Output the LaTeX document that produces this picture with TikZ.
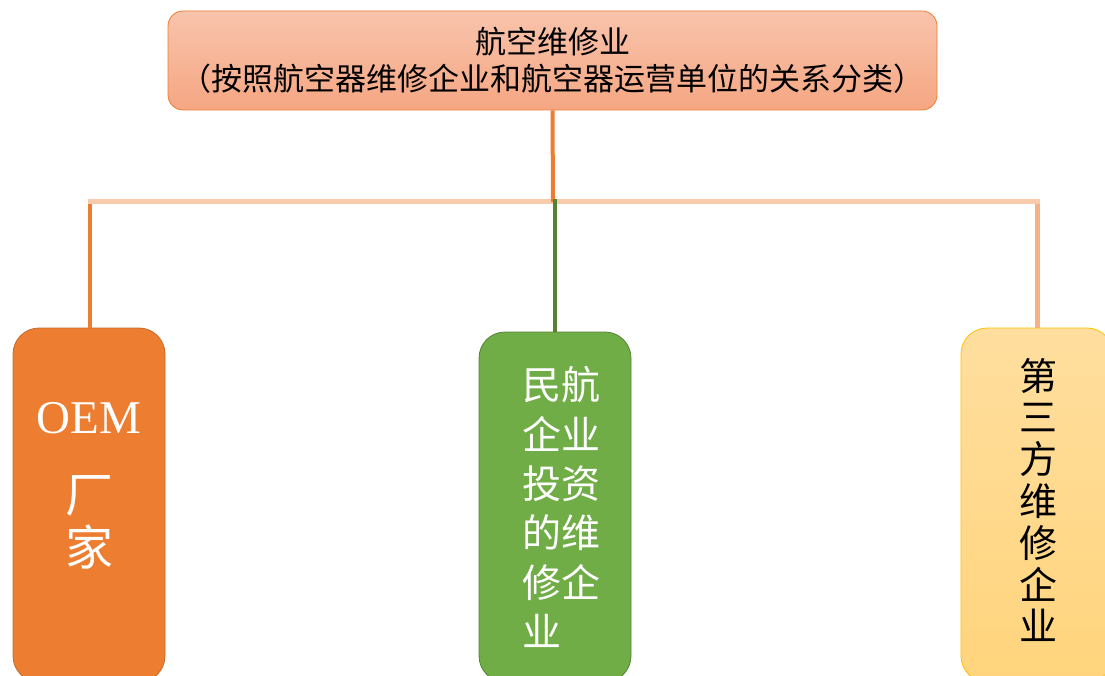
\documentclass[tikz,border=0pt]{standalone}
\usepackage{fontspec}
\newfontfamily\cjk{Noto Sans CJK SC}
\newfontfamily\tms{Liberation Serif}
\definecolor{orgA}{HTML}{ED7D31}
\definecolor{orgB}{HTML}{C46A2A}
\definecolor{peach}{HTML}{F8CBAD}
\definecolor{peachB}{HTML}{F4B183}
\definecolor{grnA}{HTML}{70AD47}
\definecolor{grnB}{HTML}{548235}
\definecolor{ylwB}{HTML}{FFC000}
\definecolor{topT}{HTML}{F8C4AC}
\definecolor{topB}{HTML}{F5A682}
\definecolor{ylwT}{HTML}{FFDE9E}
\definecolor{ylwBot}{HTML}{FFD47C}
\tikzset{
  catbox/.style={rounded corners=26pt, minimum width=152pt, line width=0.8pt, inner sep=0pt},
  conn/.style={line width=4pt}
}
\begin{document}
\begin{tikzpicture}[x=1pt,y=-1pt]
\useasboundingbox (0,0) rectangle (1105,676);
\clip (0,0) rectangle (1105,676);
% top box
\node[rounded corners=15pt, draw=orgA, line width=0.8pt, top color=topT, bottom color=topB,
      minimum width=769pt, minimum height=99pt, inner sep=0pt,
      align=center, font=\cjk\fontsize{31}{37}\selectfont] (top) at (552.5,60.5)
      {航空维修业\\（按照航空器维修企业和航空器运营单位的关系分类）};
% category boxes
\node[catbox, draw=orgB, fill=orgA, minimum height=354pt] (oem) at (89,505) {};
\node[text=white, font=\tms\fontsize{47}{53}\selectfont] (oemt) at (89,418) {OEM};
\node[text=white, align=center, font=\cjk\fontsize{48}{53}\selectfont] (oemc) at (89,522) {厂\\家};
\node[catbox, draw=grnB, fill=grnA, minimum height=350pt] (cmx) at (555,507) {};
\node[text=white, align=left, font=\cjk\fontsize{39}{49.3}\selectfont] (cmxt) at (561,507)
      {民航\\企业\\投资\\的维\\修企\\业};
\node[catbox, draw=ylwB, top color=ylwT, bottom color=ylwBot, minimum height=354pt] (tpm) at (1037,505) {};
\node[text=black, align=center, font=\cjk\fontsize{38}{41.8}\selectfont] (tpmt) at (1038,500)
      {第\\三\\方\\维\\修\\企\\业};
% connectors
\coordinate (jC) at (553,202);
\coordinate (jL) at (90,202);
\coordinate (jM) at (555,202);
\coordinate (jR) at (1037,202);
\draw[line width=5pt, peach] ([xshift=-2pt]jL) -- ([xshift=2.5pt]jR);
\draw[conn, orgA] (top.south) -- (jC);
\draw[conn, orgA] ([yshift=-2pt]jL) -- (jL |- oem.north);
\draw[conn, grnB] ([yshift=2.5pt]jM) -- (jM |- cmx.north);
\draw[line width=5pt, peachB] ([yshift=-2pt]jR) -- (jR |- tpm.north);
\end{tikzpicture}
\end{document}
